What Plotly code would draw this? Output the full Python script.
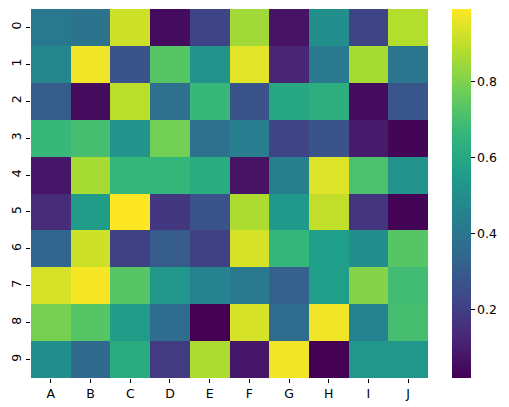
import plotly.graph_objects as go

columns = ["A", "B", "C", "D", "E", "F", "G", "H", "I", "J"]
rows = ["0", "1", "2", "3", "4", "5", "6", "7", "8", "9"]

row0 = [0.41, 0.39, 0.92, 0.05, 0.22, 0.85, 0.07, 0.50, 0.22, 0.88]
row1 = [0.47, 0.97, 0.27, 0.73, 0.52, 0.95, 0.12, 0.42, 0.86, 0.40]
row2 = [0.30, 0.05, 0.89, 0.38, 0.67, 0.27, 0.60, 0.63, 0.05, 0.28]
row3 = [0.67, 0.70, 0.52, 0.78, 0.38, 0.43, 0.22, 0.27, 0.09, 0.03]
row4 = [0.08, 0.86, 0.66, 0.66, 0.62, 0.07, 0.44, 0.94, 0.71, 0.52]
row5 = [0.14, 0.55, 0.99, 0.18, 0.27, 0.87, 0.54, 0.90, 0.17, 0.03]
row6 = [0.34, 0.92, 0.21, 0.30, 0.21, 0.93, 0.66, 0.56, 0.50, 0.73]
row7 = [0.93, 0.98, 0.73, 0.53, 0.45, 0.42, 0.32, 0.56, 0.81, 0.69]
row8 = [0.79, 0.73, 0.55, 0.36, 0.02, 0.93, 0.36, 0.97, 0.45, 0.70]
row9 = [0.50, 0.35, 0.62, 0.19, 0.87, 0.08, 0.97, 0.02, 0.53, 0.53]

values = [row0, row1, row2, row3, row4, row5, row6, row7, row8, row9]
flat = [v for r in values for v in r]

cbar_ticks = [0.2, 0.4, 0.6, 0.8]

fig = go.Figure(
    go.Heatmap(
        z=values,
        x=columns,
        y=rows,
        colorscale="Viridis",
        zmin=min(flat),
        zmax=max(flat),
        colorbar=dict(
            x=(452 - 31) / 397,
            xanchor="left",
            y=0.5,
            yanchor="middle",
            len=1,
            lenmode="fraction",
            thickness=19,
            thicknessmode="pixels",
            xpad=0,
            ypad=0,
            outlinewidth=0,
            tickvals=cbar_ticks,
            ticktext=[f"{t:.1f}" for t in cbar_ticks],
            ticks="outside",
            ticklen=4,
            tickwidth=1,
            tickcolor="black",
            tickfont=dict(family="DejaVu Sans", size=12.5, color="black"),
        ),
    )
)

fig.update_layout(
    width=509,
    height=407,
    margin=dict(l=31, r=81, t=9, b=29, autoexpand=False),
    plot_bgcolor="white",
    paper_bgcolor="white",
    font=dict(family="DejaVu Sans", size=12.5, color="black"),
)
fig.update_xaxes(
    showgrid=False, zeroline=False, showline=False,
    ticks="outside", ticklen=4, tickwidth=1, tickcolor="black",
    tickfont=dict(size=12.5, color="black"),
)
fig.update_yaxes(
    autorange="reversed",
    showgrid=False, zeroline=False, showline=False,
    ticks="outside", ticklen=4, tickwidth=1, tickcolor="black",
    tickangle=-90,
    tickfont=dict(size=12.5, color="black"),
)

fig.write_html(
    "out.html",
    config={"displayModeBar": False},
    post_script="document.body.style.margin='0';document.body.style.padding='0';",
)
